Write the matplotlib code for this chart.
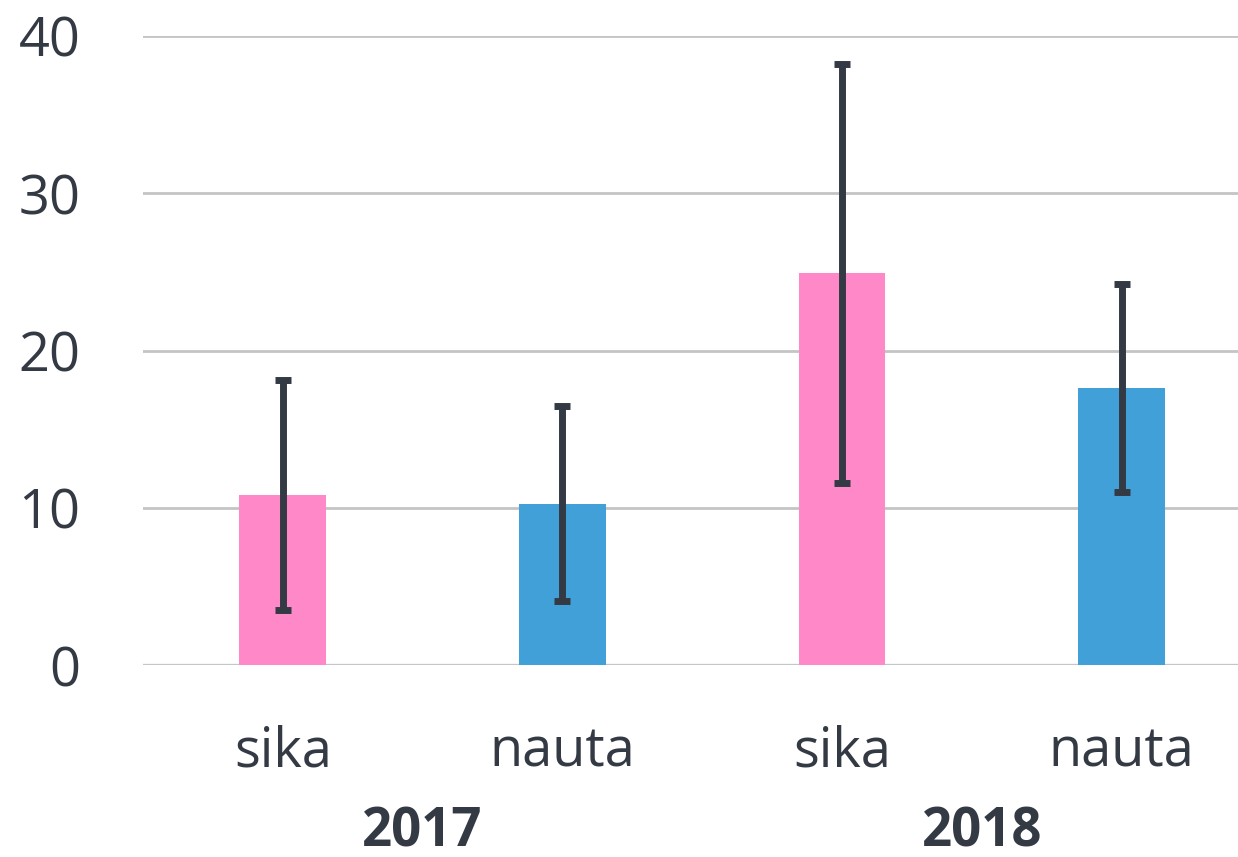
import matplotlib.pyplot as plt

# data
labels = ['sika', 'nauta', 'sika', 'nauta']
years = ['2017', '2018']
values = [10.8, 10.25, 24.9, 17.6]
errors = [7.3, 6.2, 13.3, 6.6]
colors = ['#FF88C8', '#42A0D8', '#FF88C8', '#42A0D8']

txt = '#343A44'
plt.rcParams['font.family'] = ['Open Sans', 'DejaVu Sans']

fig = plt.figure(figsize=(12.38, 8.57), dpi=100)
ax = fig.add_axes([0.1155, 0.224, 0.9035, 0.734])

x = list(range(len(values)))
ax.bar(x, values, width=0.31, color=colors, zorder=2)
ax.errorbar(x, values, yerr=errors, fmt='none', ecolor=txt, elinewidth=5,
            capsize=6, capthick=5, zorder=3)

ax.set_xlim(-0.5, 3.5)
ax.set_ylim(0, 40)
ax.set_yticks([0, 10, 20, 30, 40])
ax.yaxis.grid(True, color='#C4C4C4', linewidth=2, zorder=0)
ax.axhline(0, color='#D9DCE3', linewidth=2.5, zorder=1)
for s in ax.spines.values():
    s.set_visible(False)
ax.tick_params(axis='both', length=0, labelsize=39, colors=txt)
ax.tick_params(axis='y', pad=45)
ax.tick_params(axis='x', pad=43)
ax.set_xticks(x)
ax.set_xticklabels(labels)

for i, yr in enumerate(years):
    ax.text(2 * i + 0.5, -0.266, yr, transform=ax.get_xaxis_transform(),
            ha='center', va='center', fontsize=38, fontweight='bold', color=txt)

fig.savefig('out.png', dpi=100)
